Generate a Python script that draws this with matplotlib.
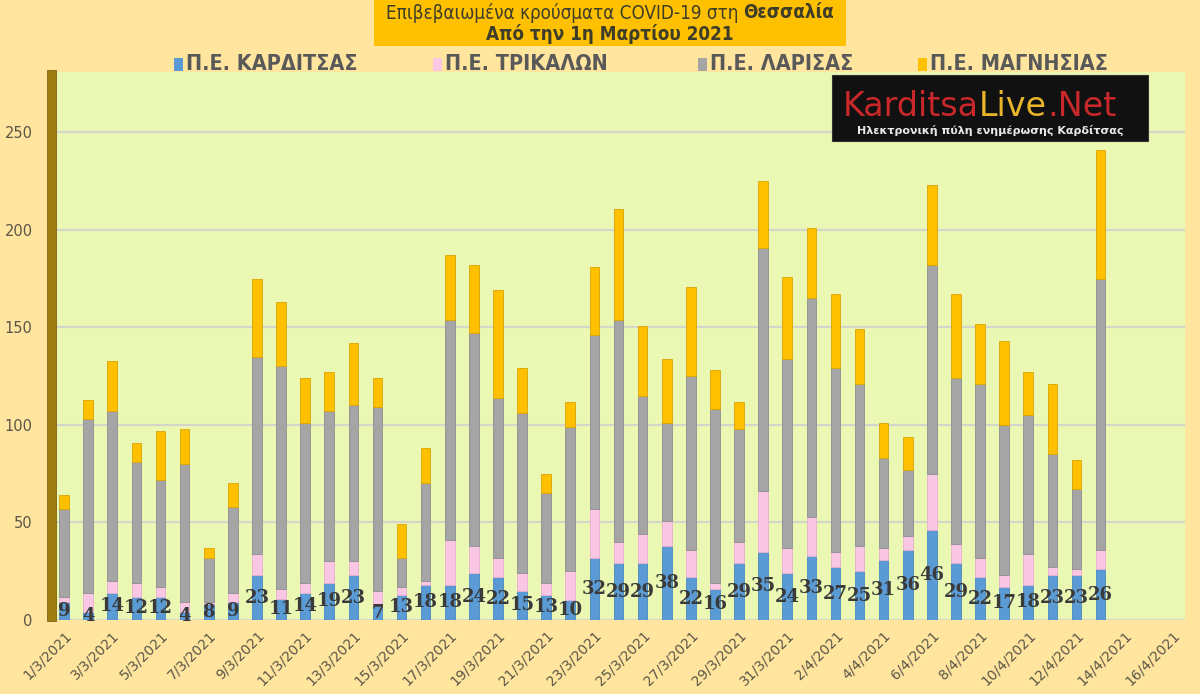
import matplotlib
matplotlib.use("Agg")
import matplotlib.pyplot as plt
from matplotlib.patches import Rectangle
import numpy as np

# ---------------- data ----------------
dates = [f"{d}/3/2021" for d in range(1, 32)] + [f"{d}/4/2021" for d in range(1, 17)]

karditsa = [9, 4, 14, 12, 12, 4, 8, 9, 23, 11, 14, 19, 23, 7, 13, 18, 18, 24, 22, 15,
            13, 10, 32, 29, 29, 38, 22, 16, 29, 35, 24, 33, 27, 25, 31, 36, 46, 29, 22,
            17, 18, 23, 23, 26]
trikala = [3, 10, 6, 7, 5, 5, 1, 5, 11, 5, 5, 11, 7, 8, 4, 2, 23, 14, 10, 9,
           6, 15, 25, 11, 15, 13, 14, 3, 11, 31, 13, 20, 8, 13, 6, 7, 29, 10, 10,
           6, 16, 4, 3, 10]
larisa = [45, 89, 87, 62, 55, 71, 23, 44, 101, 114, 82, 77, 80, 94, 15, 50, 113, 109, 82, 82,
          46, 74, 89, 114, 71, 50, 89, 89, 58, 125, 97, 112, 94, 83, 46, 34, 107, 85, 89,
          77, 71, 58, 41, 139]
magnisia = [7, 10, 26, 10, 25, 18, 5, 12, 40, 33, 23, 20, 32, 15, 17, 18, 33, 35, 55, 23,
            10, 13, 35, 57, 36, 33, 46, 20, 14, 34, 42, 36, 38, 28, 18, 17, 41, 43, 31,
            43, 22, 36, 15, 66]

series_names = ["Π.Ε. ΚΑΡΔΙΤΣΑΣ", "Π.Ε. ΤΡΙΚΑΛΩΝ", "Π.Ε. ΛΑΡΙΣΑΣ", "Π.Ε. ΜΑΓΝΗΣΙΑΣ"]
series_colors = ["#5B9BD5", "#F9C6E4", "#A5A5A5", "#FFC000"]
edge_colors = ["#4A86BE", "#E7B0D0", "#8E8E8E", "#D9A300"]
yticks = [0, 50, 100, 150, 200, 250]

title_line1 = "Επιβεβαιωμένα κρούσματα COVID-19 στη "
title_line1_bold = "Θεσσαλία"
title_line2 = "Από την 1η Μαρτίου 2021"

# ---------------- figure ----------------
W, H = 1200, 694
fig = plt.figure(figsize=(W / 100, H / 100), dpi=100)
fig.patch.set_facecolor("#FFE59E")


def fx(x):
    return x / W


def fy(y):
    return 1 - y / H


ax_left, ax_right, ax_top, ax_bot = 52, 1185, 72, 620
ax = fig.add_axes([fx(ax_left), fy(ax_bot), (ax_right - ax_left) / W, (ax_bot - ax_top) / H])
ax.set_facecolor("#EAF8B4")
for s in ax.spines.values():
    s.set_visible(False)

n = len(karditsa)
x = np.arange(n)
bottom = np.zeros(n)
all_series = [karditsa, trikala, larisa, magnisia]
for vals, col, ec in zip(all_series, series_colors, edge_colors):
    v = np.array(vals, dtype=float)
    ax.bar(x, v, width=0.40, bottom=bottom, color=col, edgecolor=ec, linewidth=0.6, zorder=3)
    bottom += v

# data labels for Karditsa (centre of blue segment)
for xi, v in zip(x, karditsa):
    ax.text(xi, v / 2, str(v), ha="center", va="center", fontsize=13,
            fontweight="bold", family="DejaVu Serif", color="#3A3A3A", zorder=5)

ax.set_xlim(-0.5, len(dates) - 0.5)
ax.set_ylim(0, 281)
ax.set_yticks(yticks)
ax.set_yticklabels([str(t) for t in yticks], fontsize=10.5, color="#5A5548")
ax.yaxis.grid(True, color="#D3D6C8", linewidth=1.6, zorder=0)
ax.set_axisbelow(True)
ax.tick_params(axis="y", length=0, pad=14)

ax.set_xticks(np.arange(0, len(dates), 2))
ax.set_xticklabels(dates[::2], rotation=45, ha="right", rotation_mode="anchor",
                   fontsize=10, color="#5A5548")
ax.tick_params(axis="x", length=0, pad=6)
ax.axhline(0, color="#D8D8C8", linewidth=1.2, zorder=2)

# 3D wall on the left
fig.patches.append(Rectangle((fx(47), fy(621)), 9 / W, (621 - 70) / H,
                             transform=fig.transFigure, facecolor="#A07D10",
                             edgecolor="#7F6410", linewidth=0.6, zorder=1))

# ---------------- title box ----------------
fig.patches.append(Rectangle((fx(374), fy(46)), (846 - 374) / W, 46 / H,
                             transform=fig.transFigure, facecolor="#FFC000",
                             edgecolor="none", zorder=1))
fig.canvas.draw()
r = fig.canvas.get_renderer()
t_a = fig.text(0, fy(13), title_line1, fontsize=13.5, color="#3D3D2A",
               ha="left", va="center", fontstretch="condensed")
t_b = fig.text(0, fy(13), title_line1_bold, fontsize=13.5, color="#3D3D2A",
               ha="left", va="center", fontweight="bold", fontstretch="condensed")
wa = t_a.get_window_extent(r).width
wb = t_b.get_window_extent(r).width
start = 610 - (wa + wb) / 2
t_a.set_x(fx(start))
t_b.set_x(fx(start + wa))
fig.text(fx(610), fy(34), title_line2, fontsize=13.5, color="#3D3D2A",
         ha="center", va="center", fontweight="bold", fontstretch="condensed")

# ---------------- legend ----------------
leg_x = [174, 433, 698, 918]
for lx, name, col in zip(leg_x, series_names, series_colors):
    fig.patches.append(Rectangle((fx(lx), fy(71)), 9 / W, 13 / H,
                                 transform=fig.transFigure, facecolor=col,
                                 edgecolor="none", zorder=2))
    fig.text(fx(lx + 12), fy(64), name, fontsize=15.5, fontweight="bold",
             color="#595959", ha="left", va="center", fontstretch="condensed")

# ---------------- logo ----------------
fig.patches.append(Rectangle((fx(832), fy(141)), (1148 - 832) / W, (141 - 75) / H,
                             transform=fig.transFigure, facecolor="#111111",
                             edgecolor="#333333", linewidth=0.8, zorder=4))
lt1 = fig.text(fx(843), fy(106), "Karditsa", fontsize=24, color="#C8282A",
               ha="left", va="center", zorder=5)
w1 = lt1.get_window_extent(r).width
lt2 = fig.text(fx(843 + w1), fy(106), "Live", fontsize=24, color="#E8B52A",
               ha="left", va="center", zorder=5)
w2 = lt2.get_window_extent(r).width
fig.text(fx(843 + w1 + w2), fy(106), ".Net", fontsize=24, color="#C8282A",
         ha="left", va="center", zorder=5)
fig.text(fx(990), fy(131), "Ηλεκτρονική πύλη ενημέρωσης Καρδίτσας", fontsize=8,
         color="#E8E8E8", ha="center", va="center", fontweight="bold", zorder=5)

fig.savefig("out.png", dpi=100, facecolor=fig.get_facecolor())
